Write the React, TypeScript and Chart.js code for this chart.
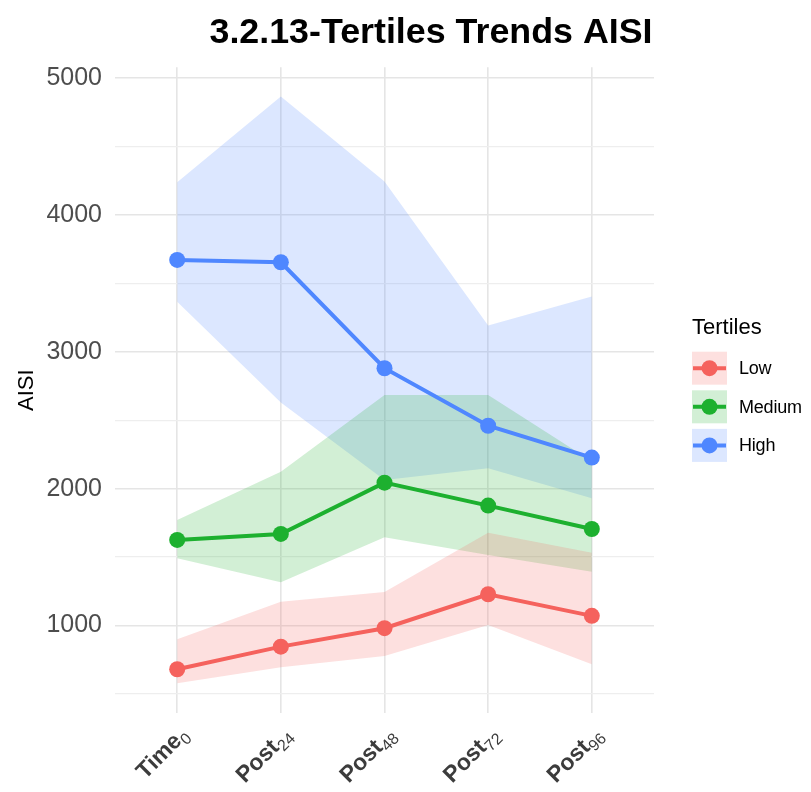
import React, { useEffect, useRef } from "react";
import { Chart, registerables } from "chart.js";
Chart.register(...registerables);

const TITLE = "3.2.13-Tertiles Trends AISI";
const Y_LABEL = "AISI";
const LEGEND_TITLE = "Tertiles";
const TIME_MAIN = ["Time", "Post", "Post", "Post", "Post"];
const TIME_SUB = ["0", "24", "48", "72", "96"];
const X_POS = [0, 1, 2, 3, 4];
const Y_GRID = [500, 1000, 1500, 2000, 2500, 3000, 3500, 4000, 4500, 5000];
const TERTILES = ["Low", "Medium", "High"];
const COLORS = ["#F5625D", "#1DB02F", "#4F87FF"];

const LOW_MEAN = [680, 845, 980, 1228, 1070];
const LOW_LOWER = [578, 694, 777, 1004, 716];
const LOW_UPPER = [899, 1174, 1245, 1678, 1532];
const MED_MEAN = [1625, 1669, 2044, 1876, 1705];
const MED_LOWER = [1491, 1316, 1645, 1515, 1393];
const MED_UPPER = [1771, 2124, 2685, 2685, 2200];
const HIGH_MEAN = [3672, 3655, 2880, 2460, 2227];
const HIGH_LOWER = [3367, 2630, 2064, 2149, 1930];
const HIGH_UPPER = [4240, 4866, 4245, 3192, 3404];

const MEANS = [LOW_MEAN, MED_MEAN, HIGH_MEAN];
const LOWERS = [LOW_LOWER, MED_LOWER, HIGH_LOWER];
const UPPERS = [LOW_UPPER, MED_UPPER, HIGH_UPPER];

const FONT = '"Liberation Sans", Arial, Helvetica, sans-serif';

function hexA(hex: string, a: number) {
  const r = parseInt(hex.slice(1, 3), 16);
  const g = parseInt(hex.slice(3, 5), 16);
  const b = parseInt(hex.slice(5, 7), 16);
  return `rgba(${r},${g},${b},${a})`;
}

const pts = (arr: number[]) => X_POS.map((x, i) => ({ x, y: arr[i] }));

const decorPlugin = {
  id: "decor",
  afterDraw(chart: any) {
    const ctx = chart.ctx;
    const area = chart.chartArea;
    const xs = chart.scales.x;
    ctx.save();
    // Title
    ctx.fillStyle = "#000";
    ctx.font = `bold 35.8px ${FONT}`;
    ctx.textAlign = "center";
    ctx.textBaseline = "alphabetic";
    ctx.fillText(TITLE, 431, 43);

    // X labels with subscripts
    for (let i = 0; i < X_POS.length; i++) {
      const px = xs.getPixelForValue(X_POS[i]);
      ctx.save();
      ctx.translate(px + 12, area.bottom + 23);
      ctx.rotate(-Math.PI / 4);
      ctx.fillStyle = "#3C3C3C";
      ctx.font = `16px ${FONT}`;
      const wS = ctx.measureText(TIME_SUB[i]).width;
      ctx.font = `bold 23px ${FONT}`;
      const wM = ctx.measureText(TIME_MAIN[i]).width;
      ctx.textAlign = "left";
      ctx.textBaseline = "alphabetic";
      ctx.fillText(TIME_MAIN[i], -wS - wM, 0);
      ctx.font = `16px ${FONT}`;
      ctx.fillText(TIME_SUB[i], -wS, 5);
      ctx.restore();
    }

    // Legend
    const lx = area.right + 38;
    ctx.fillStyle = "#000";
    ctx.font = `22px ${FONT}`;
    ctx.textAlign = "left";
    ctx.textBaseline = "middle";
    ctx.fillText(LEGEND_TITLE, lx, 328);
    for (let i = 0; i < TERTILES.length; i++) {
      const top = 351.7 + i * 38.6;
      const w = 35;
      const h = 33;
      const cy = top + h / 2;
      ctx.fillStyle = hexA(COLORS[i], 0.2);
      ctx.fillRect(lx, top, w, h);
      ctx.strokeStyle = COLORS[i];
      ctx.lineWidth = 4;
      ctx.beginPath();
      ctx.moveTo(lx + 1, cy);
      ctx.lineTo(lx + w - 1, cy);
      ctx.stroke();
      ctx.fillStyle = COLORS[i];
      ctx.beginPath();
      ctx.arc(lx + w / 2, cy, 8, 0, Math.PI * 2);
      ctx.fill();
      ctx.fillStyle = "#000";
      ctx.font = `18px ${FONT}`;
      try {
        (ctx as any).letterSpacing = "-0.2px";
      } catch (e) {}
      ctx.fillText(TERTILES[i], lx + 47, cy + 1);
      try {
        (ctx as any).letterSpacing = "0px";
      } catch (e) {}
    }
    ctx.restore();
  },
};

export default function App() {
  const ref = useRef<HTMLCanvasElement | null>(null);
  useEffect(() => {
    if (!ref.current) return;
    const datasets: any[] = [];
    for (let i = 0; i < 3; i++) {
      datasets.push({
        label: TERTILES[i] + " lower",
        data: pts(LOWERS[i]),
        borderWidth: 0,
        borderColor: "transparent",
        pointRadius: 0,
        fill: false,
        order: 1,
      });
      datasets.push({
        label: TERTILES[i] + " upper",
        data: pts(UPPERS[i]),
        borderWidth: 0,
        borderColor: "transparent",
        backgroundColor: hexA(COLORS[i], 0.2),
        pointRadius: 0,
        fill: "-1",
        order: 1,
      });
    }
    for (let i = 0; i < 3; i++) {
      datasets.push({
        label: TERTILES[i],
        data: pts(MEANS[i]),
        borderColor: COLORS[i],
        backgroundColor: COLORS[i],
        borderWidth: 4,
        pointRadius: 8,
        pointBorderWidth: 0,
        pointBackgroundColor: COLORS[i],
        fill: false,
        order: 0,
      });
    }
    const chart = new Chart(ref.current, {
      type: "line",
      data: { datasets },
      plugins: [decorPlugin],
      options: {
        animation: false,
        responsive: true,
        maintainAspectRatio: false,
        layout: { padding: { top: 67.3, right: 157, left: 0, bottom: 0 } },
        elements: { line: { tension: 0 } },
        plugins: {
          legend: { display: false },
          title: { display: false },
          tooltip: { enabled: false },
        },
        scales: {
          x: {
            type: "linear",
            min: -0.6,
            max: 4.6,
            afterBuildTicks: (s: any) => {
              s.ticks = X_POS.map((v) => ({ value: v }));
            },
            afterFit: (s: any) => {
              s.height = 79;
            },
            ticks: { display: false },
            grid: { color: "#E5E5E5", lineWidth: 1.6, drawTicks: false },
            border: { display: false },
          },
          y: {
            type: "linear",
            min: 360,
            max: 5080,
            afterBuildTicks: (s: any) => {
              s.ticks = Y_GRID.map((v) => ({ value: v }));
            },
            afterFit: (s: any) => {
              s.width = 115;
            },
            ticks: {
              padding: 13,
              color: "#4D4D4D",
              font: { size: 25, family: FONT },
              callback: (v: any) => (Number(v) % 1000 === 0 ? String(v) : ""),
            },
            grid: {
              drawTicks: false,
              color: (c: any) => (c.tick && c.tick.value % 1000 === 0 ? "#E5E5E5" : "#EEEEEE"),
              lineWidth: (c: any) => (c.tick && c.tick.value % 1000 === 0 ? 1.6 : 1.2),
            },
            border: { display: false },
            title: {
              display: true,
              text: Y_LABEL,
              color: "#000",
              font: { size: 22, family: FONT },
              padding: { top: 14, bottom: 0 },
            },
          },
        },
      },
    });
    return () => chart.destroy();
  }, []);
  return (
    <div style={{ position: "relative", width: 811, height: 792, margin: "-8px 0 -8px -8px" }}>
      <canvas ref={ref} />
    </div>
  );
}
